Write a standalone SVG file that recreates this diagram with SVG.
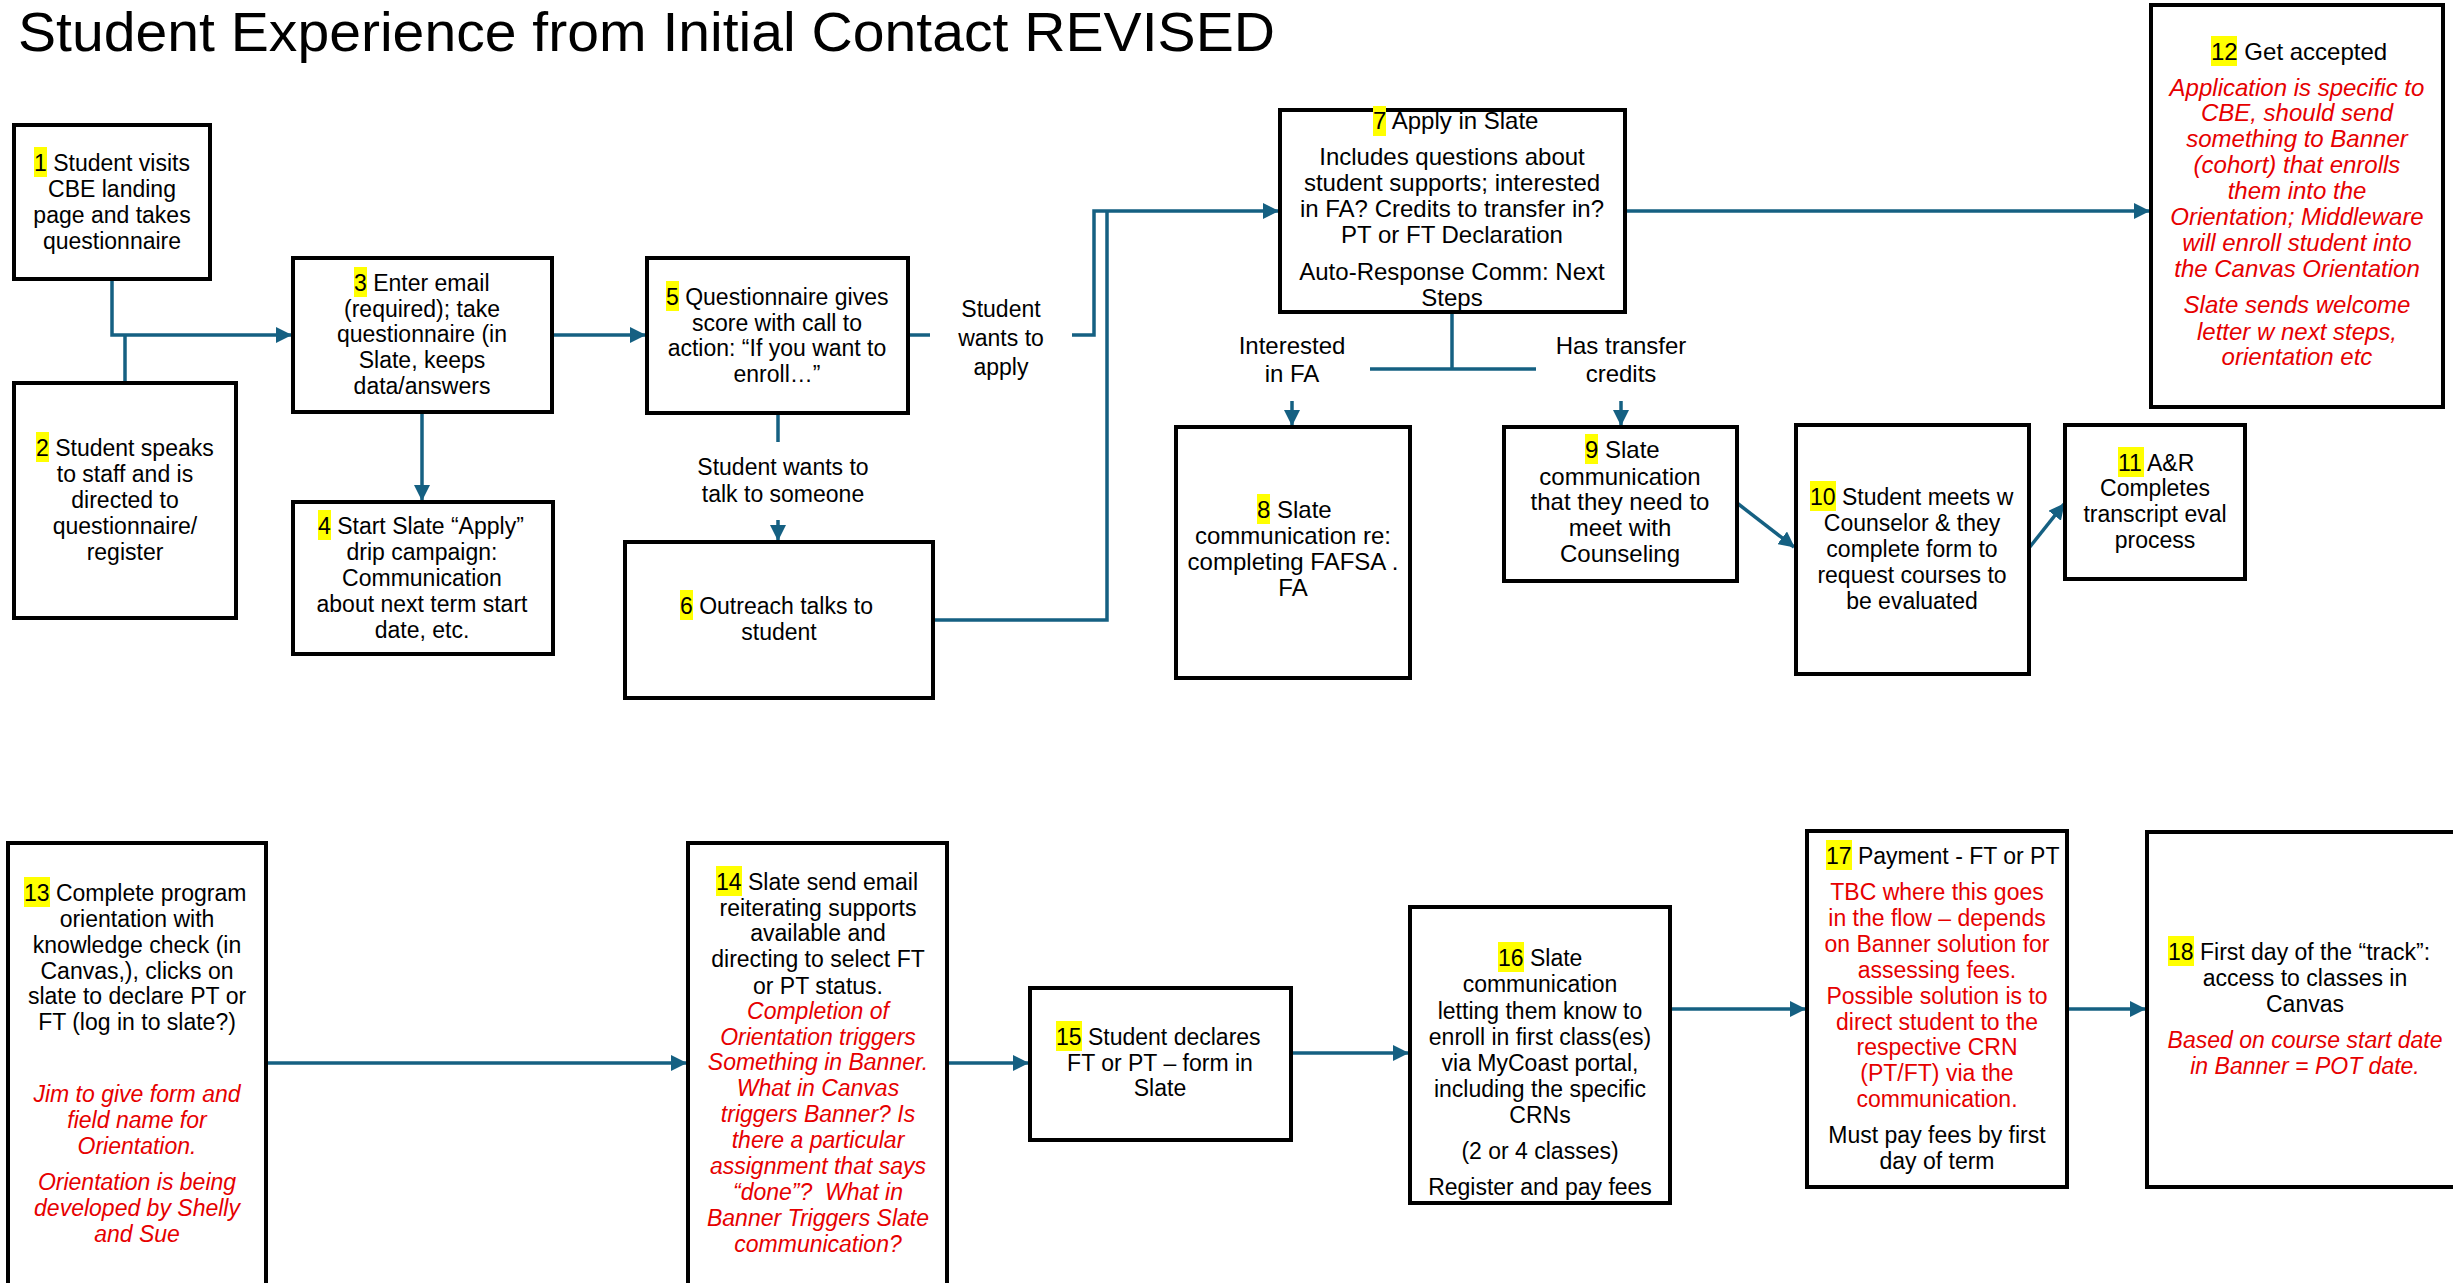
<svg xmlns="http://www.w3.org/2000/svg" width="2453" height="1283" viewBox="0 0 2453 1283">
<style>
.box{fill:#fff;stroke:#000;stroke-width:4}
.t{font-family:"Liberation Sans",Arial,sans-serif;font-size:23px;fill:#000;text-anchor:middle}
.s{text-anchor:start}
.b{font-size:24px}
.ri{fill:#E60000;font-style:italic}
.ru{fill:#E60000}
.hl{fill:#FFFF00}
.c{fill:none;stroke:#156082;stroke-width:3.5}
.title{font-family:"Liberation Sans",Arial,sans-serif;font-size:56px;fill:#000}
</style>
<defs>
<marker id="ah" markerUnits="userSpaceOnUse" markerWidth="16" markerHeight="16" refX="15" refY="8" orient="auto">
<path d="M0,0 L16,8 L0,16 z" fill="#156082"/>
</marker>
</defs>
<rect width="2453" height="1283" fill="#fff"/>
<text class="title" x="18" y="51" textLength="1257" lengthAdjust="spacingAndGlyphs">Student Experience from Initial Contact REVISED</text>

<g id="connectors">
<path class="c" d="M112,279 V335 H291" marker-end="url(#ah)"/>
<path class="c" d="M125,383 V335"/>
<path class="c" d="M422,412 V500" marker-end="url(#ah)"/>
<path class="c" d="M552,335 H645" marker-end="url(#ah)"/>
<path class="c" d="M908,335 H930"/>
<path class="c" d="M1072,335 H1094 V211 H1278" marker-end="url(#ah)"/>
<path class="c" d="M778,413 V442"/>
<path class="c" d="M778,520 V540" marker-end="url(#ah)"/>
<path class="c" d="M933,620 H1107 V211"/>
<path class="c" d="M1625,211 H2149" marker-end="url(#ah)"/>
<path class="c" d="M1452,312 V369"/>
<path class="c" d="M1370,369 H1536"/>
<path class="c" d="M1292,401 V425" marker-end="url(#ah)"/>
<path class="c" d="M1621,401 V425" marker-end="url(#ah)"/>
<path class="c" d="M1737,503 L1794,547" marker-end="url(#ah)"/>
<path class="c" d="M2029,548 L2064,504" marker-end="url(#ah)"/>
<path class="c" d="M266,1063 H686" marker-end="url(#ah)"/>
<path class="c" d="M947,1063 H1028" marker-end="url(#ah)"/>
<path class="c" d="M1291,1053 H1408" marker-end="url(#ah)"/>
<path class="c" d="M1670,1009 H1805" marker-end="url(#ah)"/>
<path class="c" d="M2067,1009 H2145" marker-end="url(#ah)"/>
</g>

<g id="labels">
<text class="t" x="1001" y="317">Student</text>
<text class="t" x="1001" y="346">wants to</text>
<text class="t" x="1001" y="375">apply</text>
<text class="t" x="783" y="475">Student wants to</text>
<text class="t" x="783" y="502">talk to someone</text>
<text class="t b" x="1292" y="354">Interested</text>
<text class="t b" x="1292" y="382">in FA</text>
<text class="t b" x="1621" y="354">Has transfer</text>
<text class="t b" x="1621" y="382">credits</text>
</g>

<g id="node1">
<rect class="box" x="14" y="125" width="196" height="154"/>
<rect class="hl" x="34" y="147" width="13" height="30"/>
<text class="t s" x="34" y="171">1 Student visits</text>
<text class="t" x="112" y="197">CBE landing</text>
<text class="t" x="112" y="223">page and takes</text>
<text class="t" x="112" y="249">questionnaire</text>
</g>

<g id="node2">
<rect class="box" x="14" y="383" width="222" height="235"/>
<rect class="hl" x="36" y="432" width="13" height="30"/>
<text class="t s" x="36" y="456">2 Student speaks</text>
<text class="t" x="125" y="482">to staff and is</text>
<text class="t" x="125" y="508">directed to</text>
<text class="t" x="125" y="534">questionnaire/</text>
<text class="t" x="125" y="560">register</text>
</g>

<g id="node3">
<rect class="box" x="293" y="258" width="259" height="154"/>
<rect class="hl" x="354" y="267" width="13" height="30"/>
<text class="t s" x="354" y="291">3 Enter email</text>
<text class="t" x="422" y="317">(required); take</text>
<text class="t" x="422" y="342">questionnaire (in</text>
<text class="t" x="422" y="368">Slate, keeps</text>
<text class="t" x="422" y="394">data/answers</text>
</g>

<g id="node4">
<rect class="box" x="293" y="502" width="260" height="152"/>
<rect class="hl" x="318" y="510" width="13" height="30"/>
<text class="t s" x="318" y="534">4 Start Slate “Apply”</text>
<text class="t" x="422" y="560">drip campaign:</text>
<text class="t" x="422" y="586">Communication</text>
<text class="t" x="422" y="612">about next term start</text>
<text class="t" x="422" y="638">date, etc.</text>
</g>

<g id="node5">
<rect class="box" x="647" y="258" width="261" height="155"/>
<rect class="hl" x="666" y="281" width="13" height="30"/>
<text class="t s" x="666" y="305">5 Questionnaire gives</text>
<text class="t" x="777" y="331">score with call to</text>
<text class="t" x="777" y="356">action: “If you want to</text>
<text class="t" x="777" y="382">enroll…”</text>
</g>

<g id="node6">
<rect class="box" x="625" y="542" width="308" height="156"/>
<rect class="hl" x="680" y="590" width="13" height="30"/>
<text class="t s" x="680" y="614">6 Outreach talks to</text>
<text class="t" x="779" y="640">student</text>
</g>

<g id="node7">
<rect class="box" x="1280" y="110" width="345" height="202"/>
<rect class="hl" x="1373" y="106" width="13" height="30"/>
<text class="t b s" x="1373" y="129">7 Apply in Slate</text>
<text class="t b" x="1452" y="165">Includes questions about</text>
<text class="t b" x="1452" y="191">student supports; interested</text>
<text class="t b" x="1452" y="217">in FA? Credits to transfer in?</text>
<text class="t b" x="1452" y="243">PT or FT Declaration</text>
<text class="t b" x="1452" y="280">Auto-Response Comm: Next</text>
<text class="t b" x="1452" y="306">Steps</text>
</g>

<g id="node8">
<rect class="box" x="1176" y="427" width="234" height="251"/>
<rect class="hl" x="1257" y="494" width="13" height="30"/>
<text class="t b s" x="1257" y="518">8 Slate</text>
<text class="t b" x="1293" y="544">communication re:</text>
<text class="t b" x="1293" y="570">completing FAFSA .</text>
<text class="t b" x="1293" y="596">FA</text>
</g>

<g id="node9">
<rect class="box" x="1504" y="427" width="233" height="154"/>
<rect class="hl" x="1585" y="434" width="13" height="30"/>
<text class="t b s" x="1585" y="458">9 Slate</text>
<text class="t b" x="1620" y="485">communication</text>
<text class="t b" x="1620" y="510">that they need to</text>
<text class="t b" x="1620" y="536">meet with</text>
<text class="t b" x="1620" y="562">Counseling</text>
</g>

<g id="node10">
<rect class="box" x="1796" y="425" width="233" height="249"/>
<rect class="hl" x="1810" y="481" width="26" height="30"/>
<text class="t s" x="1810" y="505">10 Student meets w</text>
<text class="t" x="1912" y="531">Counselor &amp; they</text>
<text class="t" x="1912" y="557">complete form to</text>
<text class="t" x="1912" y="583">request courses to</text>
<text class="t" x="1912" y="609">be evaluated</text>
</g>

<g id="node11">
<rect class="box" x="2065" y="425" width="180" height="154"/>
<rect class="hl" x="2118" y="447" width="26" height="30"/>
<text class="t s" x="2118" y="471">11 A&amp;R</text>
<text class="t" x="2155" y="496">Completes</text>
<text class="t" x="2155" y="522">transcript eval</text>
<text class="t" x="2155" y="548">process</text>
</g>

<g id="node12">
<rect class="box" x="2151" y="5" width="292" height="402"/>
<rect class="hl" x="2211" y="36" width="26" height="30"/>
<text class="t b s" x="2211" y="60">12 Get accepted</text>
<text class="t b ri" x="2297" y="96">Application is specific to</text>
<text class="t b ri" x="2297" y="121">CBE, should send</text>
<text class="t b ri" x="2297" y="147">something to Banner</text>
<text class="t b ri" x="2297" y="173">(cohort) that enrolls</text>
<text class="t b ri" x="2297" y="199">them into the</text>
<text class="t b ri" x="2297" y="225">Orientation; Middleware</text>
<text class="t b ri" x="2297" y="251">will enroll student into</text>
<text class="t b ri" x="2297" y="277">the Canvas Orientation</text>
<text class="t b ri" x="2297" y="313">Slate sends welcome</text>
<text class="t b ri" x="2297" y="340">letter w next steps,</text>
<text class="t b ri" x="2297" y="365">orientation etc</text>
</g>

<g id="node13">
<rect class="box" x="8" y="843" width="258" height="470"/>
<rect class="hl" x="24" y="877" width="26" height="30"/>
<text class="t s" x="24" y="901">13 Complete program</text>
<text class="t" x="137" y="927">orientation with</text>
<text class="t" x="137" y="953">knowledge check (in</text>
<text class="t" x="137" y="979">Canvas,), clicks on</text>
<text class="t" x="137" y="1004">slate to declare PT or</text>
<text class="t" x="137" y="1030">FT (log in to slate?)</text>
<text class="t ri" x="137" y="1102">Jim to give form and</text>
<text class="t ri" x="137" y="1128">field name for</text>
<text class="t ri" x="137" y="1154">Orientation.</text>
<text class="t ri" x="137" y="1190">Orientation is being</text>
<text class="t ri" x="137" y="1216">developed by Shelly</text>
<text class="t ri" x="137" y="1242">and Sue</text>
</g>

<g id="node14">
<rect class="box" x="688" y="843" width="259" height="470"/>
<rect class="hl" x="716" y="866" width="26" height="30"/>
<text class="t s" x="716" y="890">14 Slate send email</text>
<text class="t" x="818" y="916">reiterating supports</text>
<text class="t" x="818" y="941">available and</text>
<text class="t" x="818" y="967">directing to select FT</text>
<text class="t" x="818" y="994">or PT status.</text>
<text class="t ri" x="818" y="1019">Completion of</text>
<text class="t ri" x="818" y="1045">Orientation triggers</text>
<text class="t ri" x="818" y="1070">Something in Banner.</text>
<text class="t ri" x="818" y="1096">What in Canvas</text>
<text class="t ri" x="818" y="1122">triggers Banner? Is</text>
<text class="t ri" x="818" y="1148">there a particular</text>
<text class="t ri" x="818" y="1174">assignment that says</text>
<text class="t ri" x="818" y="1200" xml:space="preserve">“done”?  What in</text>
<text class="t ri" x="818" y="1226">Banner Triggers Slate</text>
<text class="t ri" x="818" y="1252">communication?</text>
</g>

<g id="node15">
<rect class="box" x="1030" y="988" width="261" height="152"/>
<rect class="hl" x="1056" y="1021" width="26" height="30"/>
<text class="t s" x="1056" y="1045">15 Student declares</text>
<text class="t" x="1160" y="1071">FT or PT – form in</text>
<text class="t" x="1160" y="1096">Slate</text>
</g>

<g id="node16">
<rect class="box" x="1410" y="907" width="260" height="296"/>
<rect class="hl" x="1498" y="942" width="26" height="30"/>
<text class="t s" x="1498" y="966">16 Slate</text>
<text class="t" x="1540" y="992">communication</text>
<text class="t" x="1540" y="1019">letting them know to</text>
<text class="t" x="1540" y="1045">enroll in first class(es)</text>
<text class="t" x="1540" y="1071">via MyCoast portal,</text>
<text class="t" x="1540" y="1097">including the specific</text>
<text class="t" x="1540" y="1123">CRNs</text>
<text class="t" x="1540" y="1159">(2 or 4 classes)</text>
<text class="t" x="1540" y="1195">Register and pay fees</text>
</g>

<g id="node17">
<rect class="box" x="1807" y="831" width="260" height="356"/>
<rect class="hl" x="1826" y="840" width="26" height="30"/>
<text class="t s" x="1826" y="864">17 Payment - FT or PT</text>
<text class="t ru" x="1937" y="900">TBC where this goes</text>
<text class="t ru" x="1937" y="926">in the flow – depends</text>
<text class="t ru" x="1937" y="952">on Banner solution for</text>
<text class="t ru" x="1937" y="978">assessing fees.</text>
<text class="t ru" x="1937" y="1004">Possible solution is to</text>
<text class="t ru" x="1937" y="1030">direct student to the</text>
<text class="t ru" x="1937" y="1055">respective CRN</text>
<text class="t ru" x="1937" y="1081">(PT/FT) via the</text>
<text class="t ru" x="1937" y="1107">communication.</text>
<text class="t" x="1937" y="1143">Must pay fees by first</text>
<text class="t" x="1937" y="1169">day of term</text>
</g>

<g id="node18">
<rect class="box" x="2147" y="832" width="330" height="355"/>
<rect class="hl" x="2168" y="936" width="26" height="30"/>
<text class="t s" x="2168" y="960">18 First day of the “track”:</text>
<text class="t" x="2305" y="986">access to classes in</text>
<text class="t" x="2305" y="1012">Canvas</text>
<text class="t ri" x="2305" y="1048">Based on course start date</text>
<text class="t ri" x="2305" y="1074">in Banner = POT date.</text>
</g>
</svg>
